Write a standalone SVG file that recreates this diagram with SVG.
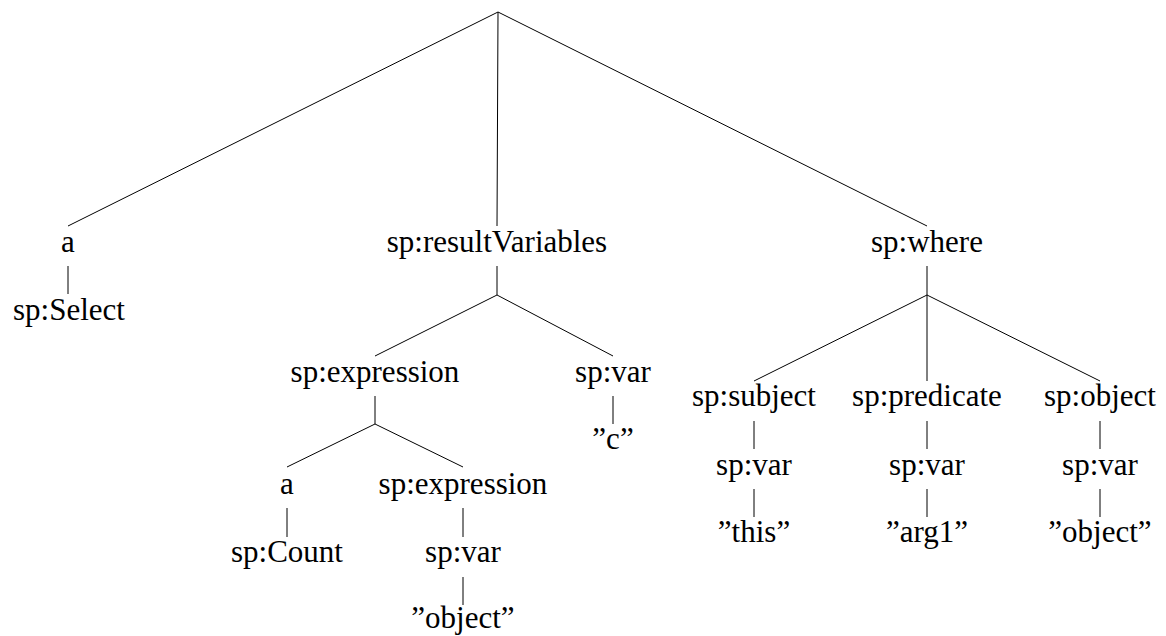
<svg xmlns="http://www.w3.org/2000/svg" width="1166" height="636" viewBox="0 0 1166 636">
<style>
text{font-family:'Liberation Serif','Times New Roman',serif;font-size:31px;fill:#000;text-anchor:middle}
.c line{stroke:#000;stroke-width:1}
</style>
<rect width="1166" height="636" fill="#fff"/>
<g class="c" id="connectors">
<line x1="498" y1="12" x2="68" y2="226"/>
<line x1="498" y1="12" x2="497" y2="226"/>
<line x1="498" y1="12" x2="927" y2="226"/>
<line x1="68" y1="266" x2="68" y2="294"/>
<line x1="497" y1="266" x2="497" y2="295"/>
<line x1="497" y1="295" x2="375" y2="356"/>
<line x1="497" y1="295" x2="613" y2="356"/>
<line x1="375" y1="396" x2="375" y2="424"/>
<line x1="375" y1="424" x2="287" y2="467"/>
<line x1="375" y1="424" x2="463" y2="467"/>
<line x1="287" y1="508" x2="287" y2="537"/>
<line x1="463" y1="508" x2="463" y2="537"/>
<line x1="463" y1="577" x2="463" y2="605"/>
<line x1="613" y1="396" x2="613" y2="424"/>
<line x1="927" y1="266" x2="927" y2="295"/>
<line x1="927" y1="295" x2="754" y2="381"/>
<line x1="927" y1="295" x2="927" y2="381"/>
<line x1="927" y1="295" x2="1100" y2="381"/>
<line x1="754" y1="421" x2="754" y2="449"/>
<line x1="754" y1="489" x2="754" y2="517"/>
<line x1="927" y1="421" x2="927" y2="449"/>
<line x1="927" y1="489" x2="927" y2="517"/>
<line x1="1100" y1="421" x2="1100" y2="449"/>
<line x1="1100" y1="489" x2="1100" y2="517"/>
</g>
<g id="n_a"><text x="68" y="252">a</text></g>
<g id="n_select"><text x="69" y="320">sp:Select</text></g>
<g id="n_resultVariables"><text x="497" y="252">sp:resultVariables</text></g>
<g id="n_expr1"><text x="375" y="382">sp:expression</text></g>
<g id="n_var1"><text x="613" y="382">sp:var</text></g>
<g id="n_c"><text x="613" y="449">”c”</text></g>
<g id="n_a2"><text x="287" y="494">a</text></g>
<g id="n_count"><text x="287" y="562">sp:Count</text></g>
<g id="n_expr2"><text x="463" y="494">sp:expression</text></g>
<g id="n_var2"><text x="463" y="562">sp:var</text></g>
<g id="n_object1"><text x="463" y="628">”object”</text></g>
<g id="n_where"><text x="927" y="252">sp:where</text></g>
<g id="n_subject"><text x="754" y="406">sp:subject</text></g>
<g id="n_var3"><text x="754" y="475">sp:var</text></g>
<g id="n_this"><text x="754" y="542">”this”</text></g>
<g id="n_predicate"><text x="927" y="406">sp:predicate</text></g>
<g id="n_var4"><text x="927" y="475">sp:var</text></g>
<g id="n_arg1"><text x="927" y="542">”arg1”</text></g>
<g id="n_objectp"><text x="1100" y="406">sp:object</text></g>
<g id="n_var5"><text x="1100" y="475">sp:var</text></g>
<g id="n_object2"><text x="1100" y="542">”object”</text></g>
</svg>
